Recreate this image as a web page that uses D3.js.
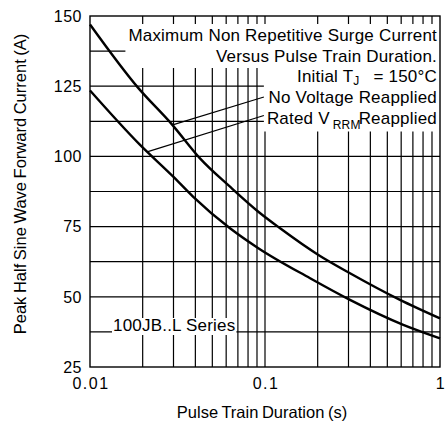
<!DOCTYPE html>
<html>
<head>
<meta charset="utf-8">
<script src="https://cdn.jsdelivr.net/npm/d3@7"></script>
<style>
  body { margin: 0; background: #fff; }
  text { font-family: "Liberation Sans", Arial, sans-serif; fill: #000; }
</style>
</head>
<body>
<div id="chart"></div>
<script>
// values
var noVoltageX = [0.01, 0.0188, 0.0293, 0.0425, 0.0631, 0.0916, 0.122, 0.202, 0.306, 0.591, 1];
var noVoltageY = [147, 124.5, 111.5, 99.3, 89.2, 80.3, 74.4, 64.9, 58.4, 48.9, 42.3];
var ratedVrrmX = [0.01, 0.0192, 0.0299, 0.0389, 0.0631, 0.0916, 0.181, 0.306, 0.617, 1];
var ratedVrrmY = [123.5, 104.3, 92.8, 85.6, 74.4, 67.3, 56.6, 48.9, 40.0, 35.2];

var xGrid = [0.02, 0.03, 0.04, 0.05, 0.06, 0.07, 0.08, 0.09, 0.1, 0.2, 0.3, 0.4, 0.5, 0.6, 0.7, 0.8, 0.9];
var yGrid = [37.5, 50, 62.5, 75, 87.5, 100, 112.5, 125, 137.5];
var xTickLabels = [0.01, 0.1, 1];
var yTickLabels = [25, 50, 75, 100, 125, 150];

// where the two leader lines touch the curves
var leaderX = [0.03, 0.0212];
var leaderY = [111.3, 101.6];

var width = 448, height = 430;

var svg = d3.select("#chart").append("svg")
	.attr("width", width)
	.attr("height", height);

var x = d3.scaleLog().domain([0.01, 1]).range([90, 440]);
var y = d3.scaleLinear().domain([25, 150]).range([367, 16]);

// grid
svg.append("g").selectAll("line")
	.data(xGrid)
	.enter().append("line")
	.attr("x1", d => x(d)).attr("x2", d => x(d))
	.attr("y1", y(25)).attr("y2", y(150))
	.attr("stroke", "#000").attr("stroke-width", 1.2);

svg.append("g").selectAll("line")
	.data(yGrid)
	.enter().append("line")
	.attr("x1", x(0.01)).attr("x2", x(1))
	.attr("y1", d => y(d)).attr("y2", d => y(d))
	.attr("stroke", "#000").attr("stroke-width", 1.2);

// annotation blocks, each masks the grid behind it
var blocks = [
	{ anchor: "end", x: 437, lines: [
		{ y: 41, parts: [["Maximum Non Repetitive Surge Current"]] },
		{ y: 62, parts: [["Versus Pulse Train Duration."]] }
	], pad: [2, 2, 3, 3] },
	{ anchor: "end", x: 437, lines: [
		{ y: 82, parts: [["Initial T"], ["J", 12, 2.5], ["= 150°C", 17, -2.5, 14]] },
		{ y: 103, parts: [["No Voltage Reapplied"]] },
		{ y: 123.5, parts: [["Rated V"], ["RRM", 12, 5, 3], ["Reapplied", 17, -5, -2]] }
	], pad: [1, 0, 3, 3] },
	{ anchor: "start", x: 113, lines: [
		{ y: 331, parts: [["100JB..L Series"]] }
	], pad: [-2, 0, 1, 1] }
];

var annot = svg.append("g");
var boxes = [];
blocks.forEach(function(b) {
	var g = annot.append("g");
	var rect = g.append("rect").attr("fill", "#fff");
	var texts = b.lines.map(function(l) {
		var t = g.append("text")
			.attr("x", b.x).attr("y", l.y)
			.attr("text-anchor", b.anchor)
			.style("font-size", "17px")
			.style("letter-spacing", "0.2px");
		l.parts.forEach(function(p) {
			var s = t.append("tspan").text(p[0]);
			if (p[1]) s.style("font-size", p[1] + "px");
			if (p[2]) s.attr("dy", p[2]);
			if (p[3]) s.attr("dx", p[3]);
		});
		return t;
	});
	var x0 = Infinity, y0 = Infinity, x1 = -Infinity, y1 = -Infinity;
	texts.forEach(function(t) {
		var bb = t.node().getBBox();
		x0 = Math.min(x0, bb.x); y0 = Math.min(y0, bb.y);
		x1 = Math.max(x1, bb.x + bb.width); y1 = Math.max(y1, bb.y + bb.height);
	});
	rect.attr("x", x0 - b.pad[2]).attr("y", y0 - b.pad[0])
		.attr("width", x1 - x0 + b.pad[2] + b.pad[3])
		.attr("height", y1 - y0 + b.pad[0] + b.pad[1]);
	boxes.push({ x0: x0 - b.pad[2], lines: b.lines });
});

// curves
var line = d3.line()
	.x(d => x(d[0]))
	.y(d => y(d[1]))
	.curve(d3.curveMonotoneX);

svg.append("path")
	.datum(d3.zip(noVoltageX, noVoltageY))
	.attr("d", line)
	.attr("fill", "none").attr("stroke", "#000").attr("stroke-width", 2.4);

svg.append("path")
	.datum(d3.zip(ratedVrrmX, ratedVrrmY))
	.attr("d", line)
	.attr("fill", "none").attr("stroke", "#000").attr("stroke-width", 2.4);

// leader lines from labels to curves
var leaderEnds = [boxes[1].lines[1].y - 6, boxes[1].lines[2].y - 8];
svg.append("g").selectAll("line")
	.data(d3.range(leaderX.length))
	.enter().append("line")
	.attr("x1", i => x(leaderX[i])).attr("y1", i => y(leaderY[i]))
	.attr("x2", boxes[1].x0).attr("y2", i => leaderEnds[i])
	.attr("stroke", "#000").attr("stroke-width", 1.2);

// frame
svg.append("rect")
	.attr("x", x(0.01)).attr("y", y(150))
	.attr("width", x(1) - x(0.01)).attr("height", y(25) - y(150))
	.attr("fill", "none").attr("stroke", "#000").attr("stroke-width", 1.4);

// tick labels
svg.append("g").selectAll("text")
	.data(yTickLabels)
	.enter().append("text")
	.attr("x", 82).attr("y", d => y(d))
	.attr("dy", "0.36em")
	.attr("text-anchor", "end")
	.style("font-size", "16px")
	.style("letter-spacing", "0.5px")
	.text(d => d);

svg.append("g").selectAll("text")
	.data(xTickLabels)
	.enter().append("text")
	.attr("x", d => x(d) + 1).attr("y", 389)
	.attr("text-anchor", "middle")
	.style("font-size", "16px")
	.style("letter-spacing", "1.5px")
	.text(d => d);

// axis titles
svg.append("text")
	.attr("x", 262).attr("y", 418)
	.attr("text-anchor", "middle")
	.style("font-size", "16.5px")
	.style("word-spacing", "-1px")
	.text("Pulse Train Duration (s)");

svg.append("text")
	.attr("transform", "translate(26," + 184 + ") rotate(-90)")
	.attr("text-anchor", "middle")
	.style("font-size", "16.5px")
	.style("word-spacing", "-1px")
	.text("Peak Half Sine Wave Forward Current (A)");
</script>
</body>
</html>
